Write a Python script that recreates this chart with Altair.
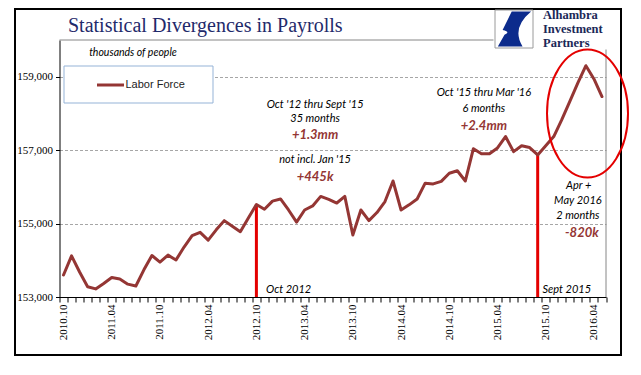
import altair as alt
import pandas as pd

# ---------------- data ----------------
series_name = "Labor Force"
tick_labels = ["2010.10", "2011.04", "2011.10", "2012.04", "2012.10", "2013.04",
               "2013.10", "2014.04", "2014.10", "2015.04", "2015.10", "2016.04"]

labor_force = [153600, 154120, 153680, 153280, 153220, 153370, 153530, 153490,
               153350, 153300, 153740, 154130, 153950, 154140, 154010, 154360,
               154670, 154760, 154550, 154830, 155080, 154930, 154780, 155150,
               155520, 155390, 155610, 155670, 155370, 155040, 155370, 155480,
               155740, 155660, 155560, 155740, 154690, 155370, 155080, 155300,
               155600, 156160, 155370, 155510, 155670, 156100, 156080, 156150,
               156370, 156440, 156160, 157040, 156900, 156900, 157060, 157370,
               156960, 157120, 157070, 156870, 157120, 157370, 157830, 158330,
               158830, 159300, 158940, 158460]

months = []
y0, m0 = 2010, 10
for i in range(len(labor_force)):
    mm = (m0 - 1 + i) % 12 + 1
    yy = y0 + (m0 - 1 + i) // 12
    months.append(f"{yy}.{mm:02d}")

marker_months = ["2012.10", "2015.09"]
marker_text = ["Oct 2012", "Sept 2015"]
marker_text_x = [25.2, 59.6]
marker_text_y = [153200, 153200]

note_text = ["Oct '12 thru Sept '15", "35 months", "not incl. Jan '15",
             "Oct '15 thru Mar '16", "6 months", "Apr +", "May 2016", "2 months"]
note_x = [31.3, 31.3, 31.3, 52.3, 52.3, 64.1, 64.0, 64.0]
note_y = [158236, 157854, 156736, 158563, 158127, 156027, 155618, 155209]

change_text = ["+1.3mm", "+445k", "+2.4mm", "-820k"]
change_x = [31.3, 31.3, 52.3, 64.5]
change_y = [157418, 156272, 157663, 154745]

unit_text = ["thousands of people"]
unit_x = [8.64]
unit_y = [159654]

highlight_x = [65.2]
highlight_y = [158000]

title_text = ["Statistical Divergences in Payrolls"]
logo_lines = ["Alhambra", "Investment", "Partners"]

y_ticks = [153000, 155000, 157000, 159000]

# ---------------- tables ----------------
n = len(labor_force)
df = pd.DataFrame({"idx": list(range(n)), "month": months, "value": labor_force})
mk = df[df["month"].isin(marker_months)].copy()
mk["base"] = 153000
mk_txt = pd.DataFrame({"text": marker_text, "x": marker_text_x, "y": marker_text_y})
notes = pd.DataFrame({"text": note_text, "x": note_x, "y": note_y})
changes = pd.DataFrame({"text": change_text, "x": change_x, "y": change_y})
unit = pd.DataFrame({"text": unit_text, "x": unit_x, "y": unit_y})
hl = pd.DataFrame({"x": highlight_x, "y": highlight_y})
one = pd.DataFrame({"k": [0]})
legend_df = pd.DataFrame({"text": [series_name]})
title_df = pd.DataFrame({"text": title_text})

W, H = 546.5, 257
LINE = "#943634"
RED = "#e40000"

x_scale = alt.Scale(domain=[-0.5, n - 0.5], nice=False, zero=False)
y_scale = alt.Scale(domain=[153000, 160000], nice=False, zero=False)

boundaries = [i - 0.5 for i in range(n + 1)]
lab_arr = "[" + ",".join("'%s'" % t for t in tick_labels) + "]"
label_expr = f"((datum.value + 0.5) % 6 == 0 && datum.value < {n - 1}) ? {lab_arr}[(datum.value + 0.5) / 6] : ''"

x_axis = alt.Axis(values=boundaries, labelExpr=label_expr, labelOffset=4.02,
                  labelAngle=-90, labelOverlap=False, labelFlush=False, labelBound=False,
                  tickSize=5, tickColor="black", domainColor="black",
                  labelFont="Liberation Serif", labelFontSize=11, labelColor="black",
                  labelPadding=2, grid=False, title=None)
y_axis = alt.Axis(values=y_ticks, format=",.0f", grid=True, gridDash=[3, 2],
                  gridColor="#a6a6a6", tickSize=4, tickColor="black",
                  domainColor="black", labelFont="Liberation Serif", labelFontSize=11,
                  labelColor="black", labelPadding=3, title=None)

def X(f):
    return alt.X(f, type="quantitative", scale=x_scale, axis=x_axis)

def Y(f):
    return alt.Y(f, type="quantitative", scale=y_scale, axis=y_axis)

# ---------------- layers ----------------
frame = alt.Chart(one).mark_rect(fillOpacity=0, stroke="black", strokeWidth=2).encode(
    x=alt.value(-44.5), x2=alt.value(561.5), y=alt.value(-31), y2=alt.value(315))

top_border = alt.Chart(one).mark_rule(color="#868686", strokeWidth=1).encode(
    x=alt.value(0), x2=alt.value(W), y=alt.value(0))
right_border = alt.Chart(one).mark_rule(color="#868686", strokeWidth=1).encode(
    x=alt.value(W), y=alt.value(0), y2=alt.value(H))

red_rules = alt.Chart(mk).mark_rule(color=RED, strokeWidth=3).encode(
    x=X("idx"), y=Y("value"), y2="base")

line = alt.Chart(df).mark_line(color=LINE, strokeWidth=3, strokeJoin="round",
                               strokeCap="round").encode(
    x=X("idx"), y=Y("value"))

notes_l = alt.Chart(notes).mark_text(font="Lato", fontStyle="italic", fontSize=11,
                                     color="black", align="center", baseline="middle").encode(
    x=X("x"), y=Y("y"), text="text")
changes_l = alt.Chart(changes).mark_text(font="Lato", fontStyle="italic", fontWeight="bold",
                                         fontSize=13, color=LINE, align="center",
                                         baseline="middle").encode(
    x=X("x"), y=Y("y"), text="text")
mk_txt_l = alt.Chart(mk_txt).mark_text(font="Lato", fontStyle="italic", fontSize=11,
                                       color="black", align="left", baseline="middle").encode(
    x=X("x"), y=Y("y"), text="text")
unit_l = alt.Chart(unit).mark_text(font="Lato", fontStyle="italic", fontSize=10.5,
                                   color="black", align="center", baseline="middle").encode(
    x=X("x"), y=Y("y"), text="text")

leg_box = alt.Chart(one).mark_rect(fill="white", stroke="#95b3d7", strokeWidth=1).encode(
    x=alt.value(4.5), x2=alt.value(153.5), y=alt.value(26), y2=alt.value(63))
leg_line = alt.Chart(one).mark_rule(color=LINE, strokeWidth=3).encode(
    x=alt.value(37.5), x2=alt.value(64.5), y=alt.value(45))
leg_text = alt.Chart(legend_df).mark_text(font="Liberation Sans", fontSize=11, color="#222",
                                          align="left", baseline="middle").encode(
    x=alt.value(66), y=alt.value(45), text="text")

logo_bg = alt.Chart(one).mark_rect(fill="white").encode(
    x=alt.value(434), x2=alt.value(559.5), y=alt.value(-29), y2=alt.value(9.5))
logo_box = alt.Chart(one).mark_point(shape="square", size=1444, filled=True, fill="white",
                                     stroke="#9a9a9a", strokeWidth=1, opacity=1).encode(
    x=alt.value(454.5), y=alt.value(-11))
logo_mark = alt.Chart(one).mark_point(
    shape="M -0.12 -0.92 L 0.9 -0.92 Q -0.15 -0.05 0.45 0.92 L -0.85 0.92 L -0.5 0.3 Q -0.15 0.15 -0.6 0.05 Z",
    size=1444, filled=True, fill="#0c2b8c", strokeWidth=0, opacity=1).encode(
    x=alt.value(454.5), y=alt.value(-11))
logo_txt_df = pd.DataFrame({"text": logo_lines, "yy": [-21, -7, 7]})
logo_txt = alt.Chart(logo_txt_df).mark_text(font="Liberation Serif", fontSize=12.5,
                                            fontWeight="bold", color="#1b2857", align="left",
                                            baseline="alphabetic").encode(
    x=alt.value(483.5), y=alt.Y("yy:Q", scale=None), text="text")

title = alt.Chart(title_df).mark_text(font="Liberation Serif", fontSize=20, color="#1f2a6b",
                                      align="left", baseline="alphabetic").encode(
    x=alt.value(8.5), y=alt.value(-8), text="text")

ellipse_path = ("M -1 0 C -1 -0.8726 -0.5523 -1.58 0 -1.58 "
                "C 0.5523 -1.58 1 -0.8726 1 0 "
                "C 1 0.8726 0.5523 1.58 0 1.58 "
                "C -0.5523 1.58 -1 0.8726 -1 0 Z")
ellipse = alt.Chart(hl).mark_point(
    shape=ellipse_path, size=6561, filled=False, stroke=RED, strokeWidth=2,
    opacity=1).encode(x=X("x"), y=Y("y"))

chart = alt.layer(
    frame, top_border, right_border, red_rules, line, notes_l, changes_l, mk_txt_l,
    unit_l, leg_box, leg_line, leg_text, logo_bg, logo_box, logo_mark, logo_txt,
    title, ellipse
).properties(
    width=W, height=H,
    autosize=alt.AutoSizeParams(type="none"),
    padding={"left": 51.5, "top": 32, "right": 27, "bottom": 70},
    background="white",
).configure_view(stroke=None)

chart.save("out.html", embed_options={"renderer": "svg", "actions": False})
